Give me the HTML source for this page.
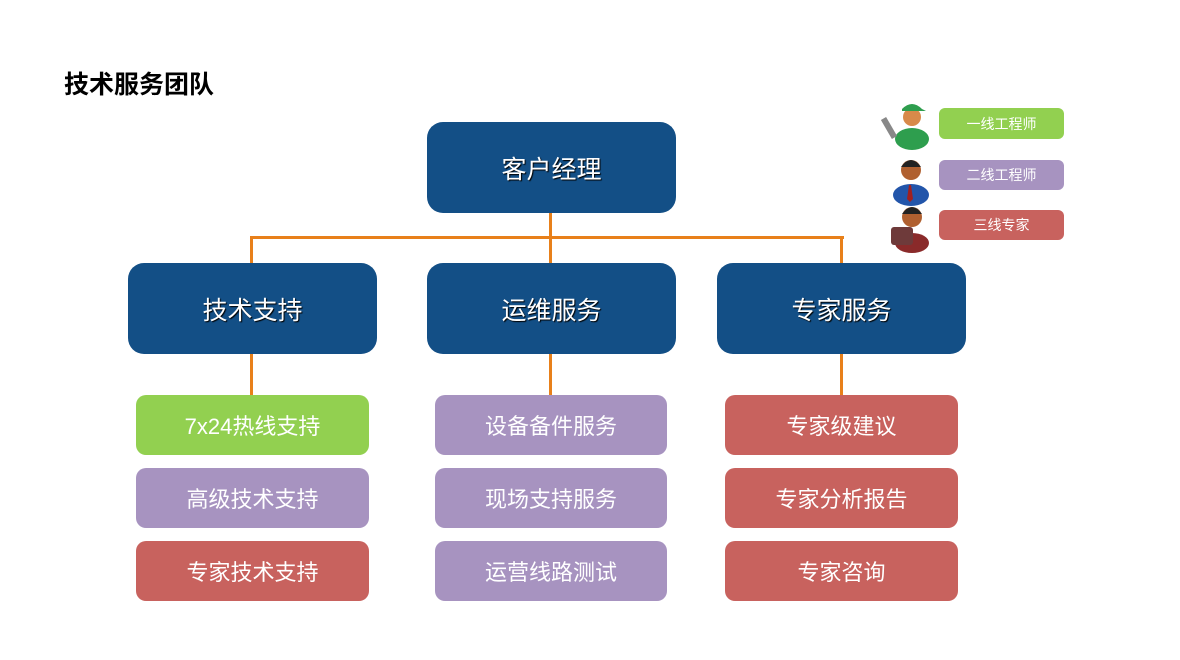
<!DOCTYPE html>
<html><head><meta charset="utf-8"><style>
body{margin:0;width:1180px;height:660px;background:#fff;position:relative;overflow:hidden;font-family:"Liberation Sans","Noto Sans CJK SC",sans-serif}
.a{position:absolute;box-sizing:border-box;display:flex;align-items:center;justify-content:center;color:#fff}
.b{background:#134F86;border-radius:16px;font-size:25px;text-shadow:1px 1px 1px #000}
.l{border-radius:10px;font-size:22px}
.g{background:#92D050}.p{background:#A793C0}.r{background:#C8625E}
.s{border-radius:6px;font-size:14px}
.ln{position:absolute;background:#E8801A}
</style></head><body>
<div style="position:absolute;left:64px;top:65px;font-size:25px;font-weight:bold;color:#000">技术服务团队</div>
<div class="ln" style="left:549px;top:212px;width:3px;height:28px"></div>
<div class="ln" style="left:250px;top:236px;width:594px;height:3px"></div>
<div class="ln" style="left:250px;top:236px;width:3px;height:28px"></div>
<div class="ln" style="left:549px;top:236px;width:3px;height:28px"></div>
<div class="ln" style="left:840px;top:236px;width:3px;height:28px"></div>
<div class="ln" style="left:250px;top:353px;width:3px;height:43px"></div>
<div class="ln" style="left:549px;top:353px;width:3px;height:43px"></div>
<div class="ln" style="left:840px;top:353px;width:3px;height:43px"></div>
<div class="a b" style="left:427px;top:122px;width:249px;height:91px">客户经理</div>
<div class="a b" style="left:128px;top:263px;width:249px;height:91px">技术支持</div>
<div class="a b" style="left:427px;top:263px;width:249px;height:91px">运维服务</div>
<div class="a b" style="left:717px;top:263px;width:249px;height:91px">专家服务</div>
<div class="a l g" style="left:136px;top:395px;width:233px;height:60px">7x24热线支持</div>
<div class="a l p" style="left:136px;top:468px;width:233px;height:60px">高级技术支持</div>
<div class="a l r" style="left:136px;top:541px;width:233px;height:60px">专家技术支持</div>
<div class="a l p" style="left:435px;top:395px;width:232px;height:60px">设备备件服务</div>
<div class="a l p" style="left:435px;top:468px;width:232px;height:60px">现场支持服务</div>
<div class="a l p" style="left:435px;top:541px;width:232px;height:60px">运营线路测试</div>
<div class="a l r" style="left:725px;top:395px;width:233px;height:60px">专家级建议</div>
<div class="a l r" style="left:725px;top:468px;width:233px;height:60px">专家分析报告</div>
<div class="a l r" style="left:725px;top:541px;width:233px;height:60px">专家咨询</div>
<div class="a s g" style="left:939px;top:108px;width:125px;height:31px">一线工程师</div>
<div class="a s p" style="left:939px;top:160px;width:125px;height:30px">二线工程师</div>
<div class="a s r" style="left:939px;top:210px;width:125px;height:30px">三线专家</div>
<svg style="position:absolute;left:880px;top:95px" width="60" height="160">
<ellipse cx="32" cy="44" rx="17" ry="11" fill="#2e9e4e"/><circle cx="32" cy="22" r="9" fill="#d88a4a"/><path d="M22 14 q10 -10 20 0 l4 2 h-24z" fill="#2e9e4e"/><rect x="6" y="22" width="6" height="22" fill="#888" transform="rotate(-30 9 33)"/>
<ellipse cx="31" cy="100" rx="18" ry="11" fill="#2255aa"/><circle cx="31" cy="75" r="10" fill="#b06030"/><path d="M21 72 q10 -14 20 0z" fill="#222"/><path d="M29 90 l2 0 l2 14 l-3 3 l-3 -3z" fill="#a02020"/>
<ellipse cx="32" cy="148" rx="17" ry="10" fill="#8a2a2a"/><circle cx="32" cy="122" r="10" fill="#b06030"/><path d="M22 119 q10 -14 20 0z" fill="#222"/><rect x="11" y="132" width="22" height="18" rx="3" fill="#6e3a3a"/>
</svg>
</body></html>
